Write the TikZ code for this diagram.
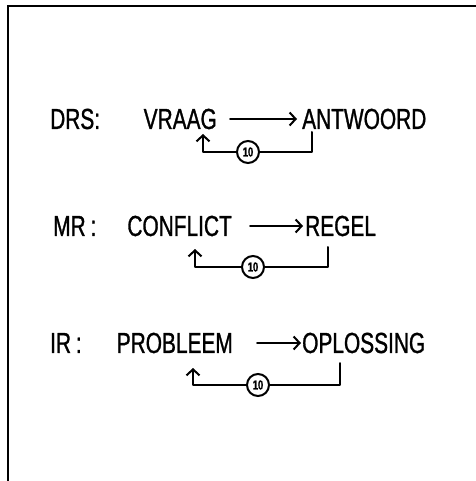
\documentclass[tikz,border=0pt]{standalone}
\usepackage{fontspec}
\newfontfamily\handfont[FakeStretch=0.72, FakeBold=1]{Liberation Sans}
\usetikzlibrary{arrows.meta}
\tikzset{
	word/.style={font=\handfont\fontsize{29}{29}\selectfont, inner sep=0pt},
	ten/.style={draw, circle, line width=2pt, minimum size=22pt, inner sep=0pt, font=\handfont\bfseries\fontsize{13}{13}\selectfont},
	pen/.style={line width=2pt, line cap=round, line join=round},
	tip/.style={-{Straight Barb[length=6pt,width=13pt]}}
}

\begin{document}
\begin{tikzpicture}[x=1pt,y=-1pt]
			%%%%% START %%%%%
			\useasboundingbox (0,0) rectangle (475,481);
			\draw[line width=2.4pt] (8,482) -- (8,6) -- (476,6);
			
			% DRS
			\node[word, anchor=west] (drs) at (50,119) {DRS:};
			\node[word, anchor=east] (vraag) at (217,119) {VRAAG};
			\node[word, anchor=west] (antwoord) at (302,119) {ANTWOORD};
			\draw[pen, tip, shorten <=13pt, shorten >=5pt] (vraag.east) -- (antwoord.west);
			\node[ten] (ten1) at (248,152) {10};
			\coordinate (in1) at (312,132);
			\coordinate (out1) at (203,134);
			\draw[pen] (in1) |- (ten1);
			\draw[pen, tip] (ten1) -| (out1);
			
			% MR
			\node[word, anchor=west] (mr) at (53,226) {MR\,:};
			\node[word, anchor=east] (conflict) at (232,226) {CONFLICT};
			\node[word, anchor=west] (regel) at (305,226) {REGEL};
			\draw[pen, tip, shorten <=18pt, shorten >=2pt] (conflict.east) -- (regel.west);
			\node[ten] (ten2) at (253,267) {10};
			\coordinate (in2) at (328,247);
			\coordinate (out2) at (195,249);
			\draw[pen] (in2) |- (ten2);
			\draw[pen, tip] (ten2) -| (out2);
			
			% IR
			\node[word, anchor=west] (ir) at (50,343) {IR\,:};
			\node[word, anchor=east] (probleem) at (233,343) {PROBLEEM};
			\node[word, anchor=west] (oplossing) at (302,343) {OPLOSSING};
			\draw[pen, tip, shorten <=24pt, shorten >=1pt] (probleem.east) -- (oplossing.west);
			\node[ten] (ten3) at (258,385) {10};
			\coordinate (in3) at (340,363);
			\coordinate (out3) at (193,368);
			\draw[pen] (in3) |- (ten3);
			\draw[pen, tip] (ten3) -| (out3);
			
			%%%%% END %%%%%
\end{tikzpicture}
\end{document}
